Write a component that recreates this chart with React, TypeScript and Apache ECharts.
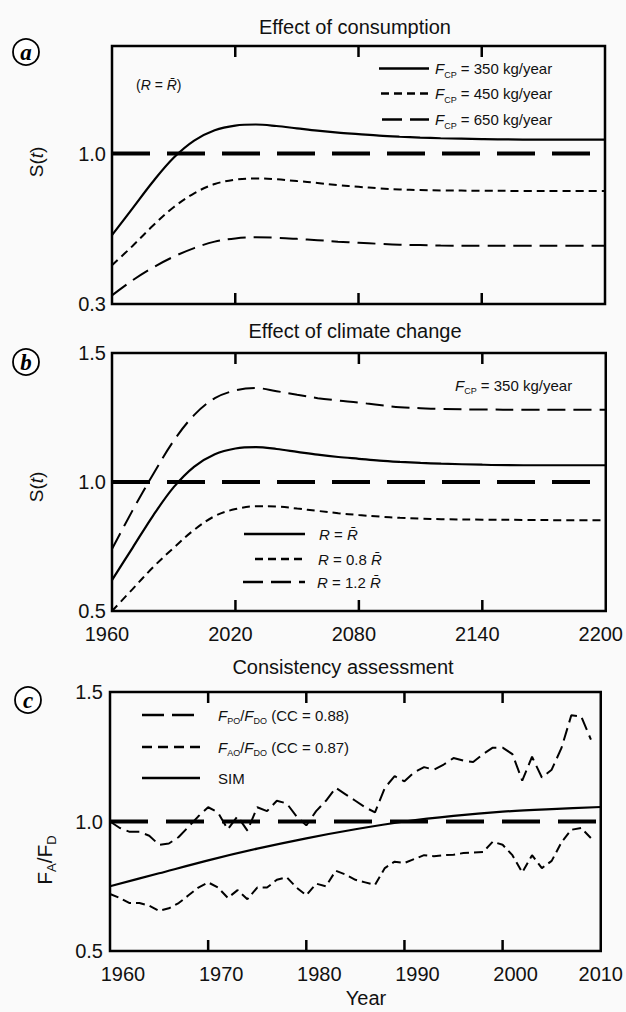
import React, { useEffect, useRef } from "react";
import * as echarts from "echarts";

// ---------- data ----------
const YEARS_AB = [1960, 1970, 1980, 1990, 2000, 2010, 2020, 2030, 2040, 2050, 2060, 2070, 2080, 2090, 2100, 2110, 2120, 2140, 2160, 2180, 2200];
// Panel a: effect of consumption (R = R-bar)
const S_350 = [0.62, 0.745, 0.87, 0.98, 1.06, 1.108, 1.13, 1.135, 1.128, 1.117, 1.106, 1.097, 1.09, 1.083, 1.078, 1.074, 1.071, 1.067, 1.065, 1.065, 1.065];
const S_450 = [0.48, 0.57, 0.665, 0.75, 0.815, 0.858, 0.878, 0.884, 0.88, 0.872, 0.863, 0.853, 0.845, 0.838, 0.833, 0.83, 0.828, 0.827, 0.826, 0.826, 0.826];
const S_650 = [0.34, 0.41, 0.47, 0.52, 0.56, 0.59, 0.605, 0.61, 0.608, 0.603, 0.597, 0.59, 0.585, 0.58, 0.576, 0.574, 0.572, 0.571, 0.571, 0.571, 0.571];
// Panel b: effect of climate change (F_CP = 350)
const R_10 = S_350;
const R_08 = [0.5, 0.585, 0.67, 0.745, 0.815, 0.868, 0.895, 0.906, 0.905, 0.897, 0.888, 0.879, 0.872, 0.866, 0.861, 0.858, 0.856, 0.854, 0.853, 0.852, 0.852];
const R_12 = [0.74, 0.89, 1.03, 1.16, 1.26, 1.325, 1.355, 1.364, 1.352, 1.338, 1.325, 1.316, 1.308, 1.298, 1.29, 1.286, 1.283, 1.281, 1.28, 1.28, 1.28];
// Panel c: consistency assessment
const YEARS_C = [1960, 1961, 1962, 1963, 1964, 1965, 1966, 1967, 1968, 1969, 1970, 1971, 1972, 1973, 1974, 1975, 1976, 1977, 1978, 1979, 1980, 1981, 1982, 1983, 1984, 1985, 1986, 1987, 1988, 1989, 1990, 1991, 1992, 1993, 1994, 1995, 1996, 1997, 1998, 1999, 2000, 2001, 2002, 2003, 2004, 2005, 2006, 2007, 2008, 2009];
const FPO_FDO = [1.0, 0.975, 0.96, 0.96, 0.945, 0.91, 0.915, 0.94, 0.98, 1.02, 1.055, 1.035, 0.97, 1.02, 0.965, 1.055, 1.04, 1.08, 1.07, 1.02, 0.985, 1.04, 1.08, 1.13, 1.105, 1.08, 1.055, 1.035, 1.13, 1.175, 1.155, 1.19, 1.21, 1.2, 1.22, 1.245, 1.235, 1.23, 1.26, 1.285, 1.285, 1.26, 1.158, 1.25, 1.17, 1.2, 1.284, 1.41, 1.406, 1.316];
const FAO_FDO = [0.72, 0.705, 0.685, 0.685, 0.675, 0.655, 0.665, 0.685, 0.715, 0.745, 0.765, 0.745, 0.705, 0.735, 0.7, 0.745, 0.745, 0.775, 0.785, 0.745, 0.715, 0.76, 0.75, 0.81, 0.795, 0.775, 0.765, 0.755, 0.82, 0.845, 0.84, 0.855, 0.87, 0.866, 0.87, 0.872, 0.878, 0.88, 0.882, 0.922, 0.91, 0.87, 0.803, 0.87, 0.82, 0.848, 0.92, 0.968, 0.975, 0.936];
const SIM_YEARS = [1960, 1965, 1970, 1975, 1980, 1985, 1990, 1995, 2000, 2005, 2010];
const SIM = [0.75, 0.8, 0.85, 0.895, 0.935, 0.97, 1.0, 1.022, 1.038, 1.048, 1.056];
const REF = 1.0;

const TITLES = ["Effect of consumption", "Effect of climate change", "Consistency assessment"];
const X_TICKS_AB = { min: 1960, max: 2200, interval: 60 };
const X_TICKS_C = { min: 1960, max: 2010, interval: 10 };
const INNER_TICKS_AB = [2020, 2080, 2140];
const INNER_TICKS_C = [1970, 1980, 1990, 2000];

const FONT = '"Liberation Sans", Arial, Helvetica, sans-serif';
const SERIF = '"Liberation Serif", "Times New Roman", serif';
const INK = "#111";

const pairs = (xs: number[], ys: number[]) => xs.map((x, i) => [x, ys[i]]);

function rich(size: number) {
  return {
    n: { fontSize: size, fontFamily: FONT, fill: INK, lineHeight: size + 6 },
    i: { fontSize: size, fontFamily: FONT, fontStyle: "italic", fill: INK, lineHeight: size + 6 },
    s: { fontSize: Math.round(size * 0.6), fontFamily: FONT, fill: INK, lineHeight: 8, verticalAlign: "bottom" },
  };
}

function rtext(x: number, y: number, text: string, size: number, extra: any = {}) {
  return {
    type: "text",
    x,
    y,
    ...extra,
    style: {
      text,
      rich: rich(size),
      fontSize: size,
      fontFamily: FONT,
      fill: INK,
      align: extra.align || "left",
      verticalAlign: "middle",
    },
  };
}

function lline(x1: number, x2: number, y: number, dash: number[] | null, w = 2) {
  return {
    type: "line",
    shape: { x1, y1: y, x2, y2: y },
    style: { stroke: "#000", lineWidth: w, lineDash: dash || undefined },
  };
}

function circled(cx: number, cy: number, letter: string) {
  return [
    { type: "circle", shape: { cx, cy, r: 13 }, style: { fill: "#fff", stroke: "#000", lineWidth: 1.8 } },
    {
      type: "text",
      x: cx,
      y: cy,
      style: { text: letter, fontFamily: SERIF, fontSize: 23, fontStyle: "italic", fontWeight: "bold", fill: "#000", align: "center", verticalAlign: "middle" },
    },
  ];
}

function xAxisOf(gridIndex: number, ticks: any, label: any) {
  return {
    type: "value",
    gridIndex,
    min: ticks.min,
    max: ticks.max,
    interval: ticks.interval,
    axisLine: { show: false },
    axisTick: { show: false },
    splitLine: { show: false },
    axisLabel: label,
  };
}

const yLabelBase = { fontSize: 20, color: INK, fontFamily: FONT, margin: 6 };

function lineSeries(ai: number, data: any[], dash: any, width = 2, smooth: any = 0.35) {
  return {
    type: "line",
    xAxisIndex: ai,
    yAxisIndex: ai,
    data,
    showSymbol: false,
    symbol: "none",
    smooth,
    lineStyle: { color: "#000", width, type: dash },
    z: 3,
  };
}

// inward ticks on the top and bottom frame, placed through the x scale
function tickSeries(ai: number, values: number[]) {
  return {
    type: "custom",
    xAxisIndex: ai,
    yAxisIndex: ai,
    data: values.map((v) => [v]),
    encode: { x: 0 },
    clip: false,
    z: 4,
    renderItem: (params: any, api: any) => {
      const cs = params.coordSys;
      const x = api.coord([api.value(0), 1])[0];
      const top = cs.y;
      const bottom = cs.y + cs.height;
      const st = { stroke: "#000", lineWidth: 2.5 };
      return {
        type: "group",
        children: [
          { type: "line", shape: { x1: x, y1: top, x2: x, y2: top + 11 }, style: st },
          { type: "line", shape: { x1: x, y1: bottom, x2: x, y2: bottom - 11 }, style: st },
        ],
      };
    },
  };
}

export default function App() {
  const ref = useRef<HTMLDivElement>(null);
  useEffect(() => {
    document.body.style.margin = "0";
    const chart = echarts.init(ref.current!, null, { renderer: "svg" });
    const gridStyle = { show: true, borderColor: "#000", borderWidth: 2.5, backgroundColor: "transparent" };
    const option: any = {
      animation: false,
      backgroundColor: "#fafafa",
      textStyle: { fontFamily: FONT },
      grid: [
        { left: 112, top: 46, width: 493, height: 258, ...gridStyle },
        { left: 112, top: 353, width: 494, height: 258, ...gridStyle },
        { left: 110, top: 692, width: 493, height: 259, ...gridStyle },
      ],
      xAxis: [
        xAxisOf(0, X_TICKS_AB, { show: false }),
        xAxisOf(1, X_TICKS_AB, {
          show: true,
          margin: 13,
          formatter: (v: number) => "{n|" + v + "}",
          rich: { n: { fontSize: 20, color: INK, fontFamily: FONT, padding: [0, 10, 0, 0] } },
        }),
        xAxisOf(2, X_TICKS_C, {
          show: true,
          margin: 13,
          formatter: (v: number) => (v === 2010 ? "{e|" + v + "}" : "{n|" + v + "}"),
          rich: {
            n: { fontSize: 20, color: INK, fontFamily: FONT, padding: [0, 0, 0, 26] },
            e: { fontSize: 20, color: INK, fontFamily: FONT },
          },
        }),
      ],
      yAxis: [
        {
          type: "value",
          gridIndex: 0,
          min: 0.3,
          max: 1.5,
          interval: 0.1,
          axisLine: { show: false },
          axisTick: { show: false },
          splitLine: { show: false },
          axisLabel: {
            ...yLabelBase,
            formatter: (v: number) => (Math.abs(v - 0.3) < 1e-6 ? "0.3" : Math.abs(v - 1) < 1e-6 ? "1.0" : ""),
          },
        },
        {
          type: "value",
          gridIndex: 1,
          min: 0.5,
          max: 1.5,
          interval: 0.5,
          axisLine: { show: false },
          axisTick: { show: false },
          splitLine: { show: false },
          axisLabel: { ...yLabelBase, formatter: (v: number) => v.toFixed(1) },
        },
        {
          type: "value",
          gridIndex: 2,
          min: 0.5,
          max: 1.5,
          interval: 0.5,
          axisLine: { show: false },
          axisTick: { show: false },
          splitLine: { show: false },
          axisLabel: { ...yLabelBase, margin: 7, formatter: (v: number) => v.toFixed(1) },
        },
      ],
      series: [
        // panel a
        lineSeries(0, pairs(YEARS_AB, S_350), "solid", 2.2),
        lineSeries(0, pairs(YEARS_AB, S_450), [8, 5], 2),
        lineSeries(0, pairs(YEARS_AB, S_650), [18, 8], 2),
        lineSeries(0, [[X_TICKS_AB.min, REF], [X_TICKS_AB.max, REF]], [38, 17], 4, false),
        tickSeries(0, INNER_TICKS_AB),
        // panel b
        lineSeries(1, pairs(YEARS_AB, R_10), "solid", 2.2),
        lineSeries(1, pairs(YEARS_AB, R_08), [8, 5], 2),
        lineSeries(1, pairs(YEARS_AB, R_12), [18, 8], 2),
        lineSeries(1, [[X_TICKS_AB.min, REF], [X_TICKS_AB.max, REF]], [38, 17], 4, false),
        tickSeries(1, INNER_TICKS_AB),
        // panel c
        lineSeries(2, pairs(YEARS_C, FPO_FDO), [13, 6], 2, false),
        lineSeries(2, pairs(YEARS_C, FAO_FDO), [9, 5], 2, false),
        lineSeries(2, pairs(SIM_YEARS, SIM), "solid", 2.2, 0.3),
        lineSeries(2, [[X_TICKS_C.min, REF], [X_TICKS_C.max, REF]], [38, 18], 4, false),
        tickSeries(2, INNER_TICKS_C),
      ],
      graphic: [
        // titles
        rtext(355, 27, "{n|" + TITLES[0] + "}", 20, { align: "center" }),
        rtext(355, 331, "{n|" + TITLES[1] + "}", 20, { align: "center" }),
        rtext(343, 667, "{n|" + TITLES[2] + "}", 20, { align: "center" }),
        // circled letters
        ...circled(26, 52, "a"),
        ...circled(26, 362, "b"),
        ...circled(28, 700, "c"),
        // y-axis names
        rtext(36, 162, "{n|S(}{i|t}{n|)}", 19, { align: "center", rotation: Math.PI / 2 }),
        rtext(36, 487, "{n|S(}{i|t}{n|)}", 19, { align: "center", rotation: Math.PI / 2 }),
        rtext(44, 860, "{n|F}{s|A}{n|/F}{s|D}", 21, { align: "center", rotation: Math.PI / 2 }),
        rtext(366, 998, "{n|Year}", 20, { align: "center" }),
        // panel a legend
        rtext(136, 85, "{n|(}{i|R}{n| = }{i|R\u0304}{n|)}", 14),
        lline(379, 429, 68.5, null, 2.5),
        lline(381, 429, 93.5, [8, 5], 2.5),
        lline(382, 429, 119.5, [20, 8], 2.5),
        rtext(435, 68.5, "{i|F}{s|CP}{n| = 350 kg/year}", 15),
        rtext(435, 93.5, "{i|F}{s|CP}{n| = 450 kg/year}", 15),
        rtext(435, 119.5, "{i|F}{s|CP}{n| = 650 kg/year}", 15),
        // panel b legend
        rtext(455, 385, "{i|F}{s|CP}{n| = 350 kg/year}", 15),
        lline(244, 305, 534, null, 2.5),
        lline(255, 305, 559, [8, 5], 2.5),
        lline(243, 305, 582, [20, 8], 2.5),
        rtext(319, 534, "{i|R}{n| = }{i|R\u0304}", 15),
        rtext(318, 559, "{i|R}{n| = 0.8 }{i|R\u0304}", 15),
        rtext(317, 582, "{i|R}{n| = 1.2 }{i|R\u0304}", 15),
        // panel c legend
        lline(142, 200, 715, [22, 8], 2.5),
        lline(142, 200, 747, [10, 6], 2.5),
        lline(142, 200, 778, null, 2.5),
        rtext(218, 715, "{i|F}{s|PO}{n|/}{i|F}{s|DO}{n| (CC = 0.88)}", 15),
        rtext(218, 747, "{i|F}{s|AO}{n|/}{i|F}{s|DO}{n| (CC = 0.87)}", 15),
        rtext(218, 778, "{n|SIM}", 15),
      ],
    };
    chart.setOption(option);
    return () => chart.dispose();
  }, []);
  return <div ref={ref} style={{ width: 626, height: 1012 }} />;
}
